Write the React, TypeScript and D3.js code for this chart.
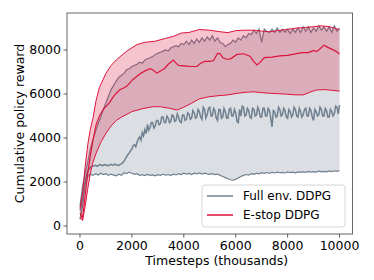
import * as d3 from "d3";

// Full env. DDPG mean, sampled every 50k steps
const fullMeanSteps = d3.range(0, 10001, 50);
const fullMean = [
  700, 900, 1300, 1700, 2050, 2300, 2500, 2600, 2650, 2700, 2720, 2740, 2760, 2720, 2740, 2780, 2790, 2740, 2760, 2790,
  2780, 2740, 2750, 2790, 2800, 2760, 2770, 2810, 2790, 2750, 2760, 2800, 2820, 2880, 2950, 3050, 3150, 3250, 3320, 3420,
  3500, 3650, 3700, 3600, 3820, 3950, 4050, 3900, 4250, 4100, 4380, 4200, 4620, 4350, 4480, 4700, 4700, 4450, 4550, 4800,
  4800, 4600, 4650, 4950, 4950, 4700, 4700, 5000, 4900, 4700, 4750, 5050, 5000, 4750, 4800, 5100, 4950, 4750, 4700, 5050,
  5050, 4800, 4850, 5150, 5100, 4850, 4900, 5250, 5150, 4900, 4950, 5300, 5200, 4950, 4850, 5400, 5300, 4900, 5050, 5350,
  5400, 5000, 5000, 5350, 5250, 4900, 4800, 5300, 5300, 4900, 4950, 5350, 5200, 4900, 4900, 5300, 5350, 5000, 5000, 5300,
  5150, 4750, 4700, 5300, 5000, 5450, 5400, 5000, 5050, 5350, 5250, 4950, 4900, 5350, 5300, 5000, 5050, 5400, 5250, 4950,
  4950, 5350, 5350, 5000, 5000, 5350, 5250, 4900, 4500, 5250, 5200, 4950, 5000, 5400, 5300, 5000, 5050, 5350, 5250, 4950,
  4900, 5300, 5200, 4950, 5050, 5400, 5300, 5000, 4950, 5350, 5200, 4950, 5050, 5300, 5350, 5000, 5000, 5350, 5250, 4950,
  4800, 5300, 5200, 5000, 5050, 5400, 5300, 5000, 5000, 5350, 5250, 4950, 4950, 5300, 5200, 5000, 5100, 5450, 5400, 5100,
  5500,
];

// Full env. DDPG band, sampled every 100k steps
const fullBandSteps = d3.range(0, 10001, 100);
const fullUpper = [
  900, 1800, 2400, 2900, 3500, 3950, 4300, 4650, 4950, 5300,
  5600, 5900, 6200, 6400, 6600, 6750, 6850, 6950, 7100, 7150,
  7250, 7300, 7350, 7450, 7400, 7550, 7600, 7650, 7700, 7800,
  7850, 7900, 7950, 8000, 7950, 8100, 8150, 8200, 8150, 8300,
  8250, 8400, 8250, 8450, 8300, 8500, 8350, 8550, 8400, 8600,
  8450, 8650, 8400, 8550, 8350, 8300, 8150, 8250, 8300, 8450,
  8350, 8550, 8450, 8650, 8550, 8750, 8700, 8900, 8750, 8950,
  8350, 8950, 8850, 8800, 8950, 8800, 9000, 8800, 8950, 8800,
  8950, 8750, 8950, 8800, 9000, 8800, 9050, 8850, 9050, 8800,
  9000, 8850, 9100, 8900, 9050, 8850, 9050, 8800, 9100, 8850,
  9000,
];
const fullLower = [
  300, 900, 1900, 2250, 2350, 2300, 2380, 2320, 2400, 2340,
  2380, 2300, 2360, 2310, 2280, 2350, 2300, 2420, 2380, 2450,
  2400, 2350, 2380, 2300, 2330, 2290, 2340, 2300, 2320, 2280,
  2330, 2300, 2350, 2310, 2340, 2290, 2360, 2320, 2380, 2340,
  2400, 2360, 2390, 2340, 2400, 2370, 2410, 2360, 2400, 2370,
  2350, 2380, 2340, 2360, 2300, 2250, 2200, 2150, 2100, 2080,
  2120, 2180, 2250, 2300, 2340, 2310, 2380, 2350, 2400, 2370,
  2420, 2390, 2430, 2400, 2440, 2410, 2450, 2420, 2440, 2410,
  2460, 2430, 2450, 2420, 2460, 2440, 2470, 2440, 2480, 2450,
  2470, 2450, 2490, 2460, 2480, 2460, 2500, 2470, 2510, 2480,
  2520,
];

// E-stop DDPG, [step, reward]
const estopMean: [number, number][] = [
  [0, 600], [100, 350], [200, 1400], [300, 2400], [400, 3200], [500, 3900],
  [620, 4600], [750, 5000], [900, 5300], [1130, 5600], [1300, 5900],
  [1520, 6180], [1700, 6280], [1800, 6350], [2030, 6650], [2290, 6900],
  [2500, 7050], [2700, 7150], [2800, 7100], [2960, 6950], [3100, 7050],
  [3250, 7150], [3400, 7350], [3600, 7545], [3700, 7400], [3800, 7300],
  [4100, 7270], [4300, 7250], [4500, 7250], [4650, 7400], [4800, 7480],
  [5000, 7480], [5150, 7520], [5300, 7850], [5400, 7830], [5500, 7650],
  [5650, 7580], [5800, 7600], [6050, 7800], [6300, 7830], [6550, 7720],
  [6700, 7470], [6820, 7320], [6950, 7450], [7100, 7650], [7400, 7680],
  [7700, 7730], [8000, 7760], [8300, 7820], [8550, 7880], [8800, 7880],
  [9000, 7980], [9100, 7930], [9200, 8000], [9400, 8220], [9550, 8120],
  [9700, 8040], [9850, 7950], [10000, 7820],
];
const estopUpper: [number, number][] = [
  [0, 800], [100, 1500], [200, 2700], [300, 3700], [400, 4400], [500, 4900],
  [620, 5700], [750, 6300], [1000, 6940], [1200, 7300], [1400, 7550],
  [1800, 7950], [2200, 8250], [2500, 8350], [2900, 8400], [3300, 8530],
  [3600, 8620], [3900, 8770], [4200, 8800], [4600, 8930], [5000, 8900],
  [5400, 8830], [5700, 8790], [6000, 8880], [6300, 8900], [6700, 8900],
  [7000, 8860], [7300, 8830], [7600, 8880], [8000, 8940], [8300, 8990],
  [8700, 9030], [9000, 9060], [9300, 9100], [9600, 9060], [9800, 9000],
  [10000, 8920],
];
const estopLower: [number, number][] = [
  [0, 400], [100, 250], [200, 900], [300, 1700], [400, 2400], [500, 2900],
  [620, 3300], [800, 3800], [1000, 4210], [1200, 4550], [1400, 4800],
  [1600, 4950], [2000, 5200], [2400, 5330], [2800, 5420], [3100, 5420],
  [3450, 5350], [3750, 5270], [4000, 5400], [4300, 5580], [4600, 5780],
  [5000, 5880], [5400, 5930], [5700, 5960], [6050, 6030], [6400, 6080],
  [6700, 6100], [7000, 6060], [7350, 6030], [7700, 6010], [8000, 5990],
  [8300, 5960], [8600, 5960], [8900, 6100], [9100, 6180], [9400, 6200],
  [9700, 6170], [10000, 6130],
];

const xTicks = [0, 2000, 4000, 6000, 8000, 10000];
const yTicks = [0, 2000, 4000, 6000, 8000];
const legendLabels = ["Full env. DDPG", "E-stop DDPG"];

const W = 374;
const H = 280;
const plot = { left: 67, right: 352.5, top: 13, bottom: 234 };
const GRAY = "#708090";
const RED = "#dc143c";
const FONT = "DejaVu Sans, sans-serif";

export default function App() {
  const x = d3.scaleLinear().domain([-500, 10500]).range([plot.left, plot.right]);
  const y = d3.scaleLinear().domain([-364, 9682]).range([plot.bottom, plot.top]);

  const line = d3
    .line<[number, number]>()
    .x((d) => x(d[0]))
    .y((d) => y(d[1]));

  const pairs = (steps: number[], vals: number[]) =>
    steps.map((s, i) => [s, vals[i]] as [number, number]);
  const band = (upper: [number, number][], lower: [number, number][]) =>
    line([...upper, ...lower.slice().reverse()]) + "Z";

  const fm = pairs(fullMeanSteps, fullMean);
  const fu = pairs(fullBandSteps, fullUpper);
  const fl = pairs(fullBandSteps, fullLower);

  const legX = 202;
  const legY = 185;

  return (
    <svg
      width={W}
      height={H}
      style={{ position: "absolute", left: 0, top: 0, background: "#fff" }}
      fontFamily={FONT}
    >
      <defs>
        <clipPath id="plotclip">
          <rect x={plot.left} y={plot.top} width={plot.right - plot.left} height={plot.bottom - plot.top} />
        </clipPath>
      </defs>
      <g clipPath="url(#plotclip)">
        <path d={band(fu, fl)} fill={GRAY} fillOpacity={0.25} />
        <path d={line(fl) ?? ""} fill="none" stroke={GRAY} strokeWidth={1.2} />
        <path d={line(fu) ?? ""} fill="none" stroke={GRAY} strokeWidth={1.2} />
        <path d={line(fm) ?? ""} fill="none" stroke={GRAY} strokeWidth={1.5} />
        <path d={band(estopUpper, estopLower)} fill={RED} fillOpacity={0.25} />
        <path d={line(estopLower) ?? ""} fill="none" stroke={RED} strokeWidth={1} />
        <path d={line(estopUpper) ?? ""} fill="none" stroke={RED} strokeWidth={1} />
        <path d={line(estopMean) ?? ""} fill="none" stroke={RED} strokeWidth={1.2} />
      </g>

      <rect
        x={plot.left}
        y={plot.top}
        width={plot.right - plot.left}
        height={plot.bottom - plot.top}
        fill="none"
        stroke="#555"
        strokeWidth={0.9}
      />

      {xTicks.map((t) => (
        <g key={t} transform={`translate(${x(t)},${plot.bottom})`}>
          <line y2={3.5} stroke="#333" strokeWidth={0.8} />
          <text y={16} textAnchor="middle" fontSize={12.5} fill="#000">
            {t}
          </text>
        </g>
      ))}
      {yTicks.map((t) => (
        <g key={t} transform={`translate(${plot.left},${y(t)})`}>
          <line x2={-3.5} stroke="#333" strokeWidth={0.8} />
          <text x={-6} dy="0.35em" textAnchor="end" fontSize={12.5} fill="#000">
            {t}
          </text>
        </g>
      ))}

      <text
        x={(plot.left + plot.right) / 2 + 7}
        y={265}
        textAnchor="middle"
        fontSize={12.5}
        fill="#000"
      >
        Timesteps (thousands)
      </text>
      <text
        transform={`translate(24,${(plot.top + plot.bottom) / 2}) rotate(-90)`}
        textAnchor="middle"
        fontSize={12.5}
        fill="#000"
      >
        Cumulative policy reward
      </text>

      <g transform={`translate(${legX},${legY})`}>
        <rect width={143} height={42} rx={3} fill="#fff" fillOpacity={0.8} stroke="#ccc" strokeWidth={0.8} />
        {legendLabels.map((lab, i) => (
          <g key={lab} transform={`translate(0,${11 + i * 19})`}>
            <line x1={5} x2={31} stroke={i === 0 ? GRAY : RED} strokeWidth={1.5} />
            <text x={41} dy="0.35em" fontSize={12} fill="#000">
              {lab}
            </text>
          </g>
        ))}
      </g>
    </svg>
  );
}
